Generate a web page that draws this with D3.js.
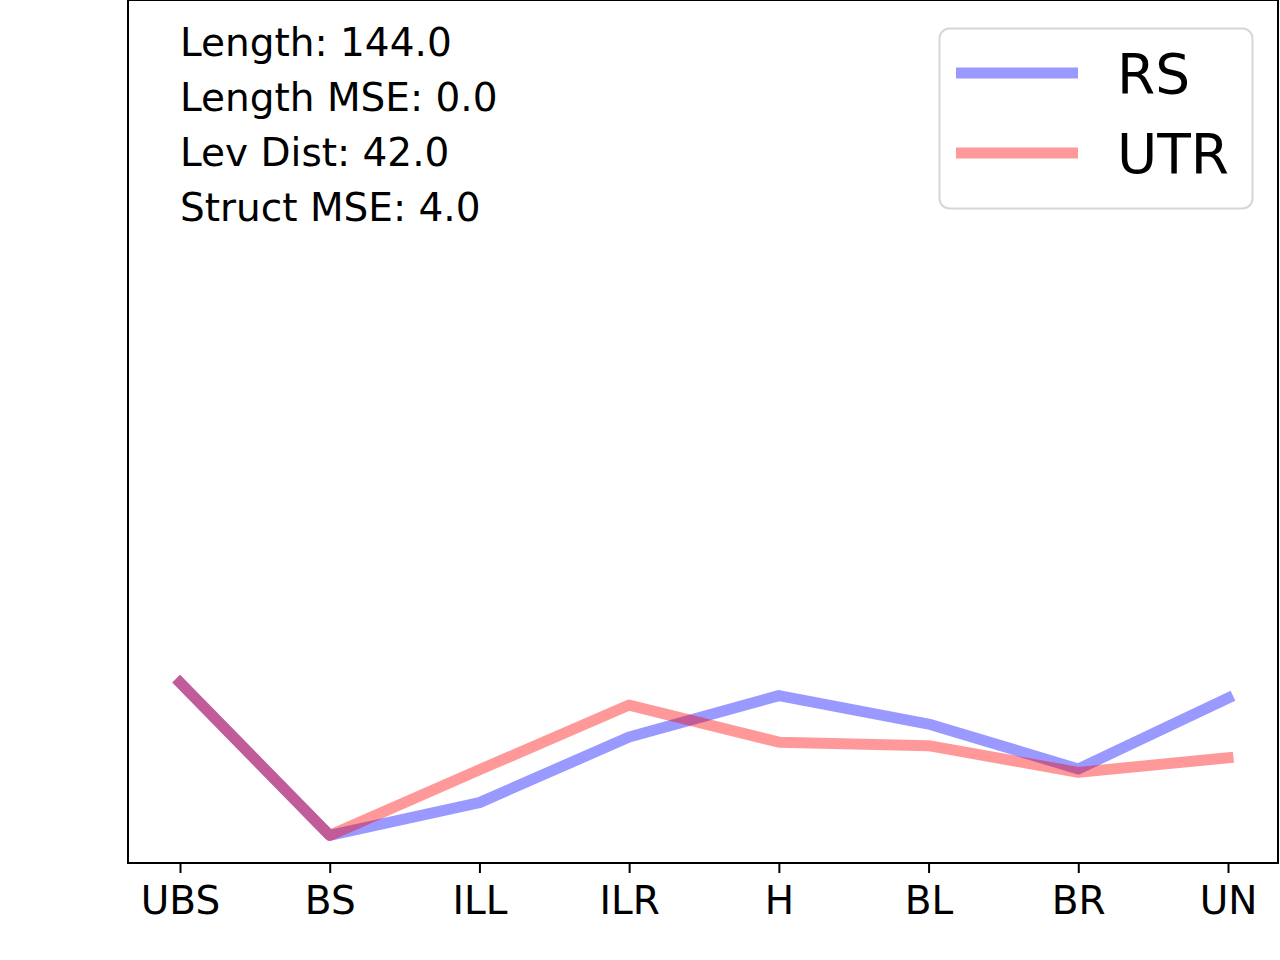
<!DOCTYPE html>
<html>
<head>
<meta charset="utf-8">
<script src="https://cdn.jsdelivr.net/npm/d3@7"></script>
<style>
  html, body { margin: 0; padding: 0; background: #fff; }
  svg { display: block; font-family: "DejaVu Sans", sans-serif; }
</style>
</head>
<body>
<svg id="chart" width="1280" height="960"></svg>
<script>
const categories = ["UBS", "BS", "ILL", "ILR", "H", "BL", "BR", "UN"];
const rsValues  = [2.09, 0.32, 0.70, 1.46, 1.94, 1.61, 1.09, 1.91];
const utrValues = [2.09, 0.32, 1.08, 1.83, 1.40, 1.36, 1.05, 1.22];
const seriesNames = ["RS", "UTR"];
const seriesColors = ["#0000ff", "#ff0000"];
const annotations = ["Length: 144.0", "Length MSE: 0.0", "Lev Dist: 42.0", "Struct MSE: 4.0"];

(function () {
const series = [
  { name: seriesNames[0], values: rsValues, color: seriesColors[0] },
  { name: seriesNames[1], values: utrValues, color: seriesColors[1] }
];

const svg = d3.select("#chart");
const plotL = 128, plotR = 1278, plotT = 0, plotB = 863;

const x = d3.scalePoint().domain(categories).range([180, 1228]);
const y = d3.scaleLinear().domain([0, 10]).range([plotB, plotT]);

const line = d3.line()
  .x((d, i) => x(categories[i]))
  .y(d => y(d));

const g = svg.append("g");

series.forEach(s => {
  g.append("path")
    .datum(s.values)
    .attr("d", line)
    .attr("fill", "none")
    .attr("stroke", s.color)
    .attr("stroke-opacity", 0.4)
    .attr("stroke-width", 11)
    .attr("stroke-linejoin", "round")
    .attr("stroke-linecap", "square");
});

// frame
svg.append("rect")
  .attr("x", plotL).attr("y", plotT)
  .attr("width", plotR - plotL).attr("height", plotB - plotT)
  .attr("fill", "none").attr("stroke", "#000").attr("stroke-width", 2);

// x axis
const xAxis = d3.axisBottom(x).tickSize(10).tickPadding(8);
const ax = svg.append("g").attr("transform", `translate(0,${plotB})`).call(xAxis);
ax.select(".domain").remove();
ax.selectAll(".tick line").attr("stroke", "#000").attr("stroke-width", 2);
ax.selectAll(".tick text")
  .attr("fill", "#000")
  .style("font-size", "39px")
  .style("font-family", "DejaVu Sans, sans-serif")
  .attr("dy", null)
  .attr("y", 51);

// annotations
svg.append("g").selectAll("text")
  .data(annotations).join("text")
  .attr("x", 180)
  .attr("y", (d, i) => 56 + i * 55)
  .attr("fill", "#000")
  .style("font-size", "39px")
  .text(d => d);

// legend
const leg = svg.append("g");
leg.append("rect")
  .attr("x", 939.5).attr("y", 28.5)
  .attr("width", 313).attr("height", 180)
  .attr("rx", 10).attr("ry", 10)
  .attr("fill", "#fff").attr("fill-opacity", 0.8)
  .attr("stroke", "#d6d6d6").attr("stroke-width", 2);
const legItems = leg.selectAll("g.item").data(series).join("g")
  .attr("class", "item")
  .attr("transform", (d, i) => `translate(0,${73 + i * 80})`);
legItems.append("line")
  .attr("x1", 956).attr("x2", 1078)
  .attr("y1", 0).attr("y2", 0)
  .attr("stroke", d => d.color)
  .attr("stroke-opacity", 0.4)
  .attr("stroke-width", 11);
legItems.append("text")
  .attr("x", 1117)
  .attr("y", 20)
  .attr("fill", "#000")
  .style("font-size", "55px")
  .text(d => d.name);
})();
</script>
</body>
</html>
